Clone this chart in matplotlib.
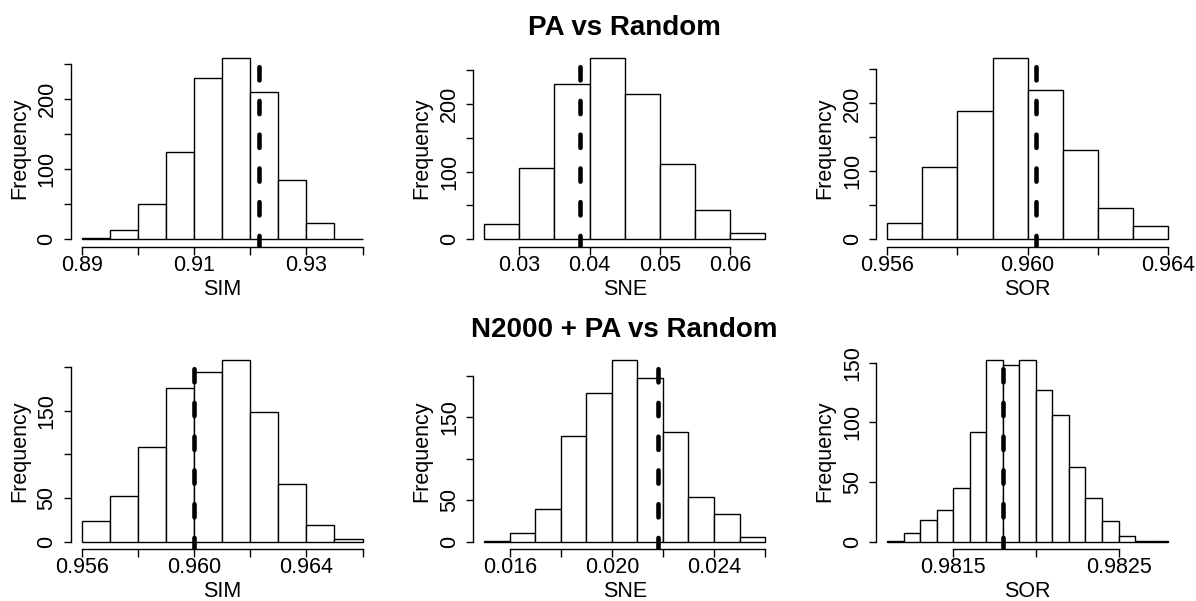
import matplotlib
matplotlib.use("Agg")
import matplotlib.pyplot as plt
import numpy as np

plt.rcParams['font.family'] = ['Liberation Sans', 'DejaVu Sans']
plt.rcParams['lines.scale_dashes'] = False

# --- PA vs Random ---
pa_sim_edges = [0.890, 0.895, 0.900, 0.905, 0.910, 0.915, 0.920, 0.925, 0.930, 0.935, 0.940]
pa_sim_counts = [2, 14, 50, 125, 230, 259, 210, 85, 23, 1]
pa_sim_obs = 0.9215

pa_sne_edges = [0.025, 0.030, 0.035, 0.040, 0.045, 0.050, 0.055, 0.060, 0.065]
pa_sne_counts = [23, 105, 229, 268, 214, 111, 44, 9]
pa_sne_obs = 0.0386

pa_sor_edges = [0.956, 0.957, 0.958, 0.959, 0.960, 0.961, 0.962, 0.963, 0.964]
pa_sor_counts = [24, 106, 189, 267, 219, 132, 46, 19]
pa_sor_obs = 0.96023

# --- N2000 + PA vs Random ---
n2k_sim_edges = [0.956, 0.957, 0.958, 0.959, 0.960, 0.961, 0.962, 0.963, 0.964, 0.965, 0.966]
n2k_sim_counts = [24, 52, 109, 176, 194, 208, 149, 66, 19, 3]
n2k_sim_obs = 0.9600

n2k_sne_edges = [0.015, 0.016, 0.017, 0.018, 0.019, 0.020, 0.021, 0.022, 0.023, 0.024, 0.025, 0.026]
n2k_sne_counts = [1, 11, 39, 128, 179, 219, 197, 133, 54, 33, 6]
n2k_sne_obs = 0.02179

n2k_sor_edges = [0.9811, 0.9812, 0.9813, 0.9814, 0.9815, 0.9816, 0.9817, 0.9818, 0.9819,
                 0.9820, 0.9821, 0.9822, 0.9823, 0.9824, 0.9825, 0.9826, 0.9827, 0.9828]
n2k_sor_counts = [1, 7, 18, 27, 45, 92, 152, 148, 152, 127, 106, 63, 37, 17, 5, 1, 1]
n2k_sor_obs = 0.98180

# ticks (empty string = label dropped, like R does when they would overlap)
xt_pa_sim = [0.89, 0.90, 0.91, 0.92, 0.93, 0.94]
xl_pa_sim = ["0.89", "", "0.91", "", "0.93", ""]
xt_pa_sne = [0.03, 0.04, 0.05, 0.06]
xl_pa_sne = ["0.03", "0.04", "0.05", "0.06"]
xt_pa_sor = [0.956, 0.958, 0.960, 0.962, 0.964]
xl_pa_sor = ["0.956", "", "0.960", "", "0.964"]
xt_n2k_sim = [0.956, 0.958, 0.960, 0.962, 0.964, 0.966]
xl_n2k_sim = ["0.956", "", "0.960", "", "0.964", ""]
xt_n2k_sne = [0.016, 0.018, 0.020, 0.022, 0.024, 0.026]
xl_n2k_sne = ["0.016", "", "0.020", "", "0.024", ""]
xt_n2k_sor = [0.9815, 0.9820, 0.9825]
xl_n2k_sor = ["0.9815", "", "0.9825"]

yt_top = [0, 50, 100, 150, 200, 250]
yl_top = ["0", "", "100", "", "200", ""]
yt_bot = [0, 50, 100, 150, 200]
yl_bot = ["0", "50", "", "150", ""]
yt_sor = [0, 50, 100, 150]
yl_sor = ["0", "50", "100", "150"]

row_titles = ["PA vs Random", "N2000 + PA vs Random"]

panels = [
    (pa_sim_edges, pa_sim_counts, pa_sim_obs, "SIM", xt_pa_sim, xl_pa_sim, yt_top, yl_top),
    (pa_sne_edges, pa_sne_counts, pa_sne_obs, "SNE", xt_pa_sne, xl_pa_sne, yt_top, yl_top),
    (pa_sor_edges, pa_sor_counts, pa_sor_obs, "SOR", xt_pa_sor, xl_pa_sor, yt_top, yl_top),
    (n2k_sim_edges, n2k_sim_counts, n2k_sim_obs, "SIM", xt_n2k_sim, xl_n2k_sim, yt_bot, yl_bot),
    (n2k_sne_edges, n2k_sne_counts, n2k_sne_obs, "SNE", xt_n2k_sne, xl_n2k_sne, yt_bot, yl_bot),
    (n2k_sor_edges, n2k_sor_counts, n2k_sor_obs, "SOR", xt_n2k_sor, xl_n2k_sor, yt_sor, yl_sor),
]

W, H = 1196, 601
fig = plt.figure(figsize=(W / 100, H / 100), dpi=100)
lefts = [70.5, 473, 876]
tops = [50.6, 353]
aw, ah = 303.3, 196
fs = 15.5

axes = []
for i, (edges, counts, obs, name, xt, xl, yt, yl) in enumerate(panels):
    r, c = divmod(i, 3)
    ax = fig.add_axes([lefts[c] / W, 1 - (tops[r] + ah) / H, aw / W, ah / H])
    edges = np.array(edges)
    ax.bar(edges[:-1], counts, width=np.diff(edges), align='edge',
           color='white', edgecolor='black', linewidth=1.0)
    pad = 0.04 * (edges[-1] - edges[0])
    ax.set_xlim(edges[0] - pad, edges[-1] + pad)
    top = max(counts)
    ax.set_ylim(-0.04 * top, 1.04 * top)
    # observed value, drawn top-down so the dash phase matches R's abline
    ax.plot([obs, obs], [1.04 * top, -0.04 * top], color='black', lw=3.3,
            linestyle=(13.0, (9.5, 14.8)), dash_capstyle='round')

    for s in ['top', 'right']:
        ax.spines[s].set_visible(False)
    for s in ['left', 'bottom']:
        ax.spines[s].set_linewidth(1.0)
    ax.spines['bottom'].set_bounds(xt[0], xt[-1])
    ax.spines['left'].set_bounds(yt[0], yt[-1])

    ax.set_xticks(xt)
    ax.set_xticklabels(xl)
    ax.set_yticks(yt)
    ax.set_yticklabels(yl, rotation=90, va='center')
    ax.tick_params(axis='both', direction='out', length=5.4, width=1.0, labelsize=fs)
    ax.tick_params(axis='x', pad=0.5)
    ax.tick_params(axis='y', pad=4)
    ax.set_xlabel(name, fontsize=fs, labelpad=2.2)
    ax.set_ylabel("Frequency", fontsize=fs, labelpad=4.5)
    axes.append(ax)

for r, title in enumerate(row_titles):
    mid = axes[r * 3 + 1].get_position()
    fig.text((mid.x0 + mid.x1) / 2, 1 - (tops[r] - 15.6) / H, title,
             ha='center', va='baseline', fontsize=20, fontweight='bold')

fig.savefig("out.png", dpi=100)
